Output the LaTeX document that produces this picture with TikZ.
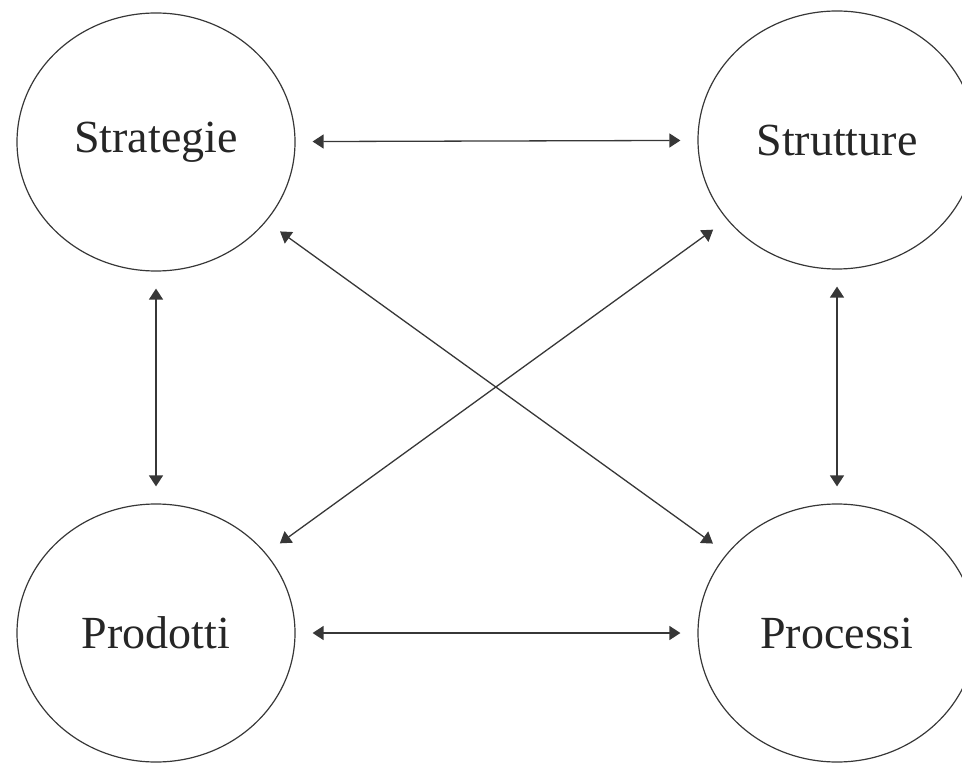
\documentclass[tikz,border=0pt]{standalone}
\usepackage{fontspec}
\setmainfont{Liberation Serif}
\usetikzlibrary{shapes.geometric,arrows.meta}
\definecolor{linegrey}{RGB}{55,55,55}

\begin{document}
\begin{tikzpicture}[x=0.5pt, y=-0.5pt,
    area/.style={ellipse, draw=linegrey, line width=0.6pt, minimum width=139pt,
        minimum height=129pt, inner sep=0pt, text=black!85,
        font=\fontsize{23}{27}\selectfont},
    link/.style={{Triangle[length=5.5pt,width=7pt]}-{Triangle[length=5.5pt,width=7pt]},
        line width=0.65pt, linegrey, shorten >=8.5pt, shorten <=8.5pt}
]
    \clip (0,0) rectangle (962,764);
    \node[area] (strategie) at (156,142) {Strategie};
    \node[area] (strutture) at (837,140) {Strutture};
    \node[area] (prodotti) at (156,633) {Prodotti};
    \node[area] (processi) at (837,633) {Processi};

    \draw[link] (strategie) -- (strutture);
    \draw[link] (prodotti) -- (processi);
    \draw[link] (strategie) -- (prodotti);
    \draw[link] (strutture) -- (processi);
    \draw[link] (strategie) -- (processi);
    \draw[link] (prodotti) -- (strutture);
\end{tikzpicture}
\end{document}
